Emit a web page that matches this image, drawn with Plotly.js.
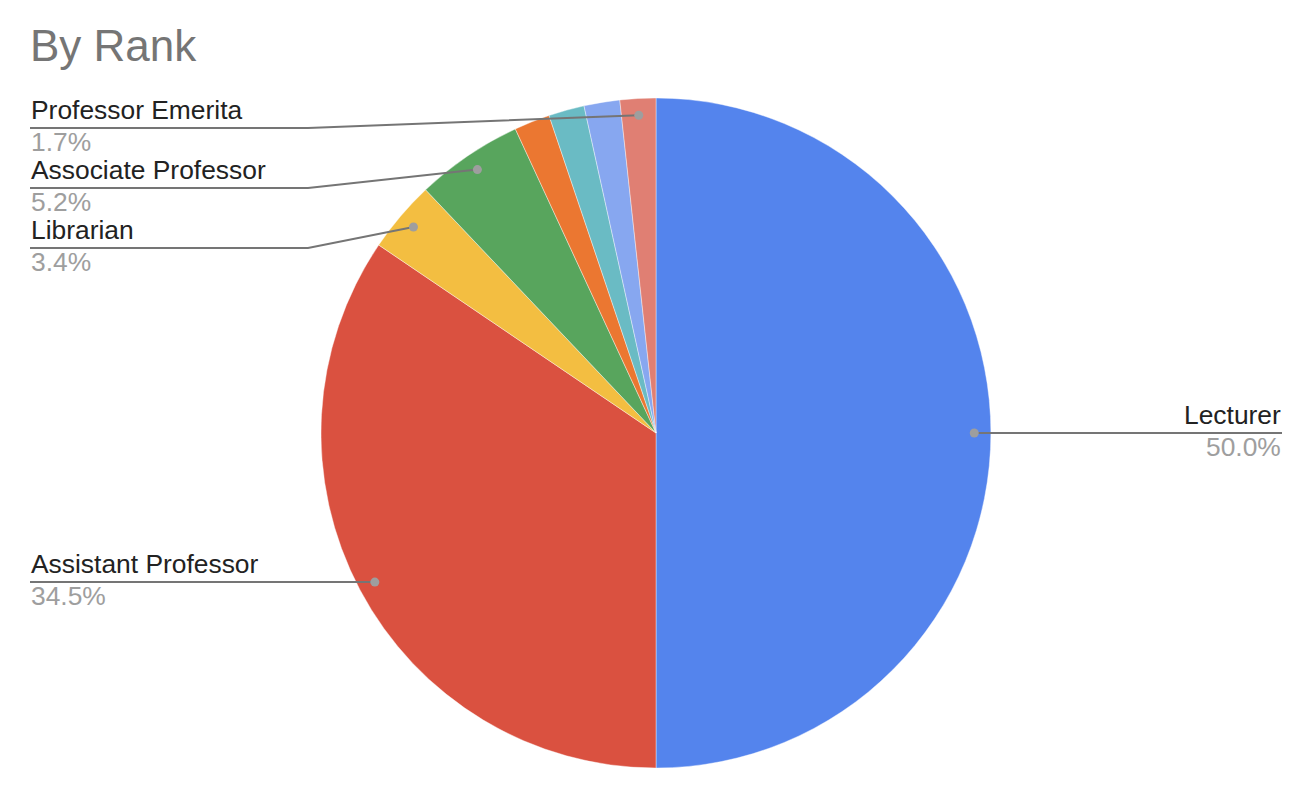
<!DOCTYPE html>
<html>
<head>
<meta charset="utf-8">
<script src="https://cdn.plot.ly/plotly-3.0.1.min.js"></script>
<style>html,body{margin:0;padding:0;background:#fff;}#chart{width:1306px;height:796px;}</style>
</head>
<body>
<div id="chart"></div>
<script>
// ---- data ----
const rankLabels = ['Lecturer', 'Assistant Professor', 'Librarian', 'Associate Professor', 'Professor', 'Adjunct Professor', 'Visiting Professor', 'Professor Emerita'];
const rankCounts = [29, 20, 2, 3, 1, 1, 1, 1];
const sliceColors = ['#5484ED', '#DA5140', '#F3BE41', '#58A55D', '#EB7731', '#6ABBC4', '#87A7F0', '#E07F73'];
const showLabel = [true, true, true, true, false, false, false, true];

// ---- layout geometry (pixels) ----
const W = 1306, H = 796;
const CX = 656, CY = 433, R = 335;
const DOT_R = 0.95;
const LEFT_X = 30, RIGHT_X = 1282, BEND_X = 308;
const stackedY = {7: 128, 3: 188, 2: 248}; // label rows for the crowded top-left slices
const FONT = '"Liberation Sans", Arial, Helvetica, sans-serif';
const LABEL_SIZE = 26.4;

const px = x => x / W;
const py = y => 1 - y / H;

const total = rankCounts.reduce((a, b) => a + b, 0);

const shapes = [];
const annotations = [];
let cum = 0;
rankCounts.forEach((v, i) => {
  const mid = (cum + v / 2) / total;
  cum += v;
  if (!showLabel[i]) return;
  const th = mid * 2 * Math.PI;
  const dx = CX + R * DOT_R * Math.sin(th);
  const dy = CY - R * DOT_R * Math.cos(th);
  const right = Math.sin(th) > 0;
  const ly = (i in stackedY) ? stackedY[i] : dy;
  let path;
  if (right) {
    path = `M ${px(dx)},${py(dy)} L ${px(RIGHT_X)},${py(ly)}`;
  } else if (Math.abs(ly - dy) > 0.5) {
    path = `M ${px(LEFT_X)},${py(ly)} L ${px(BEND_X)},${py(ly)} L ${px(dx)},${py(dy)}`;
  } else {
    path = `M ${px(LEFT_X)},${py(ly)} L ${px(dx)},${py(dy)}`;
  }
  shapes.push({type: 'path', xref: 'paper', yref: 'paper', path: path,
    line: {color: '#757575', width: 2}});
  shapes.push({type: 'circle', xref: 'paper', yref: 'paper',
    x0: px(dx - 4.5), x1: px(dx + 4.5), y0: py(dy + 4.5), y1: py(dy - 4.5),
    fillcolor: '#9E9E9E', line: {width: 0}});
  const tx = right ? RIGHT_X : LEFT_X;
  const anchor = right ? 'right' : 'left';
  annotations.push({xref: 'paper', yref: 'paper', x: px(tx), y: py(ly - 2),
    xanchor: anchor, yanchor: 'bottom', showarrow: false, text: rankLabels[i],
    font: {family: FONT, size: LABEL_SIZE, color: '#222222'}, borderpad: 0});
  annotations.push({xref: 'paper', yref: 'paper', x: px(tx), y: py(ly - 2),
    xanchor: anchor, yanchor: 'top', showarrow: false,
    text: (v / total * 100).toFixed(1) + '%',
    font: {family: FONT, size: LABEL_SIZE, color: '#9E9E9E'}, borderpad: 0});
});

const trace = {
  type: 'pie',
  labels: rankLabels,
  values: rankCounts,
  sort: false,
  direction: 'clockwise',
  rotation: 0,
  textinfo: 'none',
  hoverinfo: 'label+percent',
  marker: {colors: sliceColors, line: {color: '#ffffff', width: 0.4}},
  domain: {x: [px(CX - R), px(CX + R)], y: [py(CY + R), py(CY - R)]},
  showlegend: false
};

const layout = {
  width: W, height: H,
  margin: {l: 0, r: 0, t: 0, b: 0},
  paper_bgcolor: '#ffffff',
  plot_bgcolor: '#ffffff',
  showlegend: false,
  font: {family: FONT},
  title: {text: 'By Rank', x: px(30), xanchor: 'left', xref: 'container',
    y: 1 - 30 / H, yanchor: 'top', yref: 'container',
    font: {family: FONT, size: 44, color: '#757575'}},
  shapes: shapes,
  annotations: annotations
};

Plotly.newPlot('chart', [trace], layout, {displayModeBar: false, staticPlot: true});
</script>
</body>
</html>
